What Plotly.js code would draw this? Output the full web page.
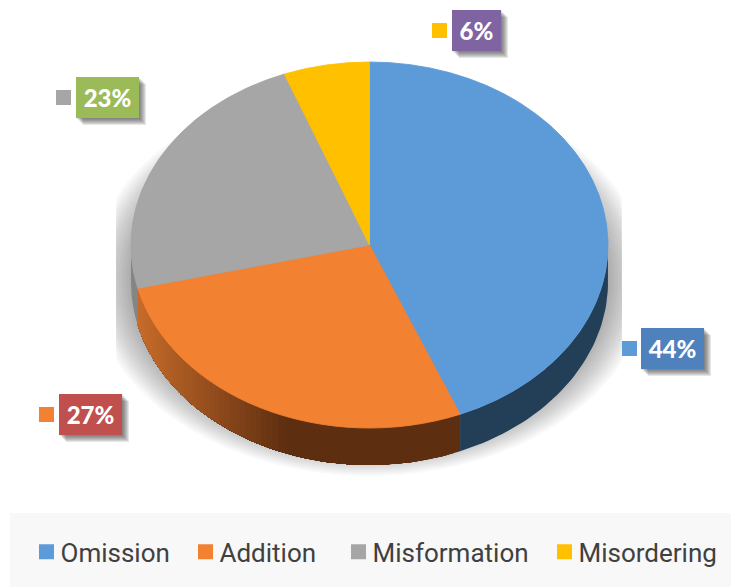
<!DOCTYPE html>
<html><head><meta charset="utf-8">
<script src="https://cdn.plot.ly/plotly-3.0.1.min.js"></script>
<style>html,body{margin:0;padding:0;background:#fff}#chart{width:731px;height:587px}</style>
</head><body><div id="chart"></div>
<script>
const categories = ["Omission","Addition","Misformation","Misordering"];
const values = [43.8,27.4,23,5.8];
const sliceColors = ["#5d9bd8","#f28132","#a6a6a6","#ffc000"];
const wallDark = ["#223f57","#5e2e10","#858585","#a07800"];
const wallLight = ["#223f57","#c86c2a","#858585","#a07800"];
const labelColors = ["#4f81bd","#c0504d","#9bbb59","#8064a2"];
const labelBoxes = [[641,328,704,369],[59,394,122,435],[76,77,139,118],[452,10,501,51]];
const keyBoxes = [[622,341,637,356],[39,407,54,422],[56,90,71,105],[432,23,447,38]];
const legendSwatchLeft = [40.5,199.5,352.5,558.5];

const W=731,H=587,cx=369.5,cy=245,rx=238.5,ry=183,depth=37;
const total=values.reduce((a,b)=>a+b,0);
const hex=c=>[1,3,5].map(i=>parseInt(c.substr(i,2),16));
const mix=(a,b,t)=>{const A=hex(a),B=hex(b);return 'rgb('+A.map((v,i)=>Math.round(v+(B[i]-v)*t)).join(',')+')';};
const traces=[];

// soft shadow below the pie, clipped to a rectangle like the reference
for(let i=0;i<18;i++){
  const k=i/17, sx=rx+40-k*46, sy=ry+14-k*30, xs=[],ys=[];
  for(let a=0;a<=360;a+=3){
    const t=a*Math.PI/180;
    xs.push(Math.max(116,Math.min(622,cx+sx*Math.sin(t))));
    ys.push(cy+34+sy*Math.cos(t));
  }
  traces.push({type:'scatter',mode:'lines',x:xs,y:ys,fill:'toself',fillcolor:'rgba(0,0,0,0.024)',line:{width:0},hoverinfo:'skip',showlegend:false});
}

// side wall of the disc, from the same slice values (each step paints over the previous one)
let cum=0;
values.forEach((v,s)=>{
  const a0=cum/total*360, a1=(cum+v)/total*360; cum+=v;
  const lo=Math.max(a0,90), hi=Math.min(a1,270);
  if(hi<=lo) return;
  const flat=wallDark[s]===wallLight[s];
  const steps=flat?1:Math.ceil((hi-lo)/1.5);
  for(let j=0;j<steps;j++){
    const b0=lo+(hi-lo)*j/steps, top=[],bot=[];
    const n=Math.max(2,Math.ceil((hi-b0)/1.5));
    for(let q=0;q<=n;q++){
      const t=(b0+(hi-b0)*q/n)*Math.PI/180;
      top.push([cx+rx*Math.sin(t),cy-ry*Math.cos(t)]);
      bot.push([cx+rx*Math.sin(t),cy-ry*Math.cos(t)+depth]);
    }
    const pts=top.concat(bot.reverse());
    const xs=pts.map(p=>p[0]), ys=pts.map(p=>p[1]);
    xs.push(xs[0]);ys.push(ys[0]);
    const edgeX=cx+rx*Math.sin(b0*Math.PI/180);
    const g=Math.max(0,Math.min(1,(290-edgeX)/153));
    const col=mix(wallDark[s],wallLight[s],g);
    traces.push({type:'scatter',mode:'lines',x:xs,y:ys,fill:'toself',fillcolor:col,line:{width:0},hoverinfo:'skip',showlegend:false});
  }
});

traces.push({type:'pie',labels:categories,values:values,sort:false,direction:'clockwise',rotation:0,
  textinfo:'none',marker:{colors:sliceColors,line:{color:sliceColors,width:1}},
  domain:{x:[(cx-rx)/W,(cx+rx)/W],y:[1-(cy+rx)/H,1-(cy-rx)/H]},showlegend:true});

const shapes=[{type:'rect',xref:'x',yref:'y',x0:10,x1:731,y0:513,y1:587,fillcolor:'#f8f8f8',line:{width:0},layer:'below'}];
labelBoxes.forEach(b=>{
  for(let i=7;i>=1;i--){
    shapes.push({type:'rect',xref:'x',yref:'y',x0:b[0]+i,x1:b[2]+i,y0:b[1]+i,y1:b[3]+i,fillcolor:'rgba(60,60,60,0.13)',line:{width:0},layer:'above'});
  }
});
keyBoxes.forEach((b,i)=>shapes.push({type:'rect',xref:'x',yref:'y',x0:b[0],x1:b[2],y0:b[1],y1:b[3],fillcolor:sliceColors[i],line:{width:0},layer:'above'}));

const annotations=values.map((v,i)=>{const b=labelBoxes[i];return {
  xref:'x',yref:'y',x:(b[0]+b[2])/2,y:(b[1]+b[3])/2,xanchor:'center',yanchor:'middle',
  width:b[2]-b[0],height:b[3]-b[1],borderpad:0,borderwidth:0,bgcolor:labelColors[i],
  showarrow:false,align:'center',valign:'middle',
  text:Math.round(v/total*100)+'%',font:{family:'Lato, sans-serif',size:24,weight:900,color:'#fff'}};});

const layout={width:W,height:H,margin:{l:0,r:0,t:0,b:0,autoexpand:false},paper_bgcolor:'#fff',plot_bgcolor:'rgba(0,0,0,0)',
  xaxis:{range:[0,W],visible:false,fixedrange:true},yaxis:{range:[H,0],visible:false,fixedrange:true},
  showlegend:true,shapes:shapes,annotations:annotations,
  legend:{orientation:'h',x:0,xanchor:'left',y:0.06,yanchor:'middle',bgcolor:'rgba(0,0,0,0)',
    font:{family:'Roboto, sans-serif',size:26,color:'#404040'},itemwidth:30,itemclick:false,itemdoubleclick:false}};

Plotly.newPlot('chart',traces,layout,{displayModeBar:false,staticPlot:true}).then(gd=>{
  const k=ry/rx;
  gd.querySelectorAll('.pielayer').forEach(g=>g.setAttribute('transform','translate(0,'+cy+') scale(1,'+k+') translate(0,'+(-cy)+')'));
  // place legend entries as in the reference
  const leg=gd.querySelector('.legend');
  if(leg){
    leg.querySelectorAll('[clip-path]').forEach(n=>n.removeAttribute('clip-path'));
    leg.querySelectorAll('.traces').forEach((t,i)=>{
      const m=(t.getAttribute('transform')||'').match(/translate\(([-\d.]+)[ ,]+([-\d.]+)/);
      const y=m?m[2]:0;
      const swatch=t.querySelector('.legendpoints path');
      if(swatch){swatch.style.strokeWidth='3px';}
      const curLeft=swatch?swatch.getBoundingClientRect().left:0;
      const curX=m?parseFloat(m[1]):0;
      t.setAttribute('transform','translate('+(curX+legendSwatchLeft[i]-curLeft)+','+y+')');
      const txt=t.querySelector('.legendtext');
      if(txt){txt.setAttribute('x',parseFloat(txt.getAttribute('x'))-6);}
    });
  }
});
</script></body></html>
